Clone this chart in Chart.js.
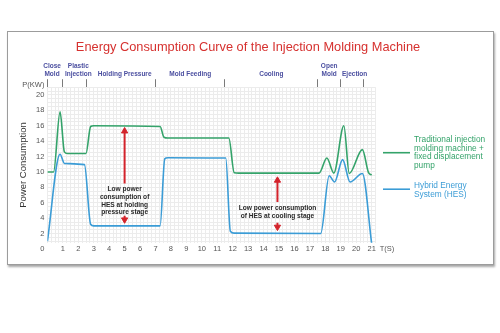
<!DOCTYPE html>
<html>
<head>
<meta charset="utf-8">
<script src="https://cdn.jsdelivr.net/npm/chart.js"></script>
<style>
  html, body { margin: 0; padding: 0; background: #fff; }
  #frame { position: absolute; left: 7px; top: 31px; width: 485px; height: 232px;
           border: 1px solid #9c9c9c; box-shadow: 1px 2px 2px rgba(0,0,0,0.35); background: #fff; }
  #wrap { position: absolute; left: 0; top: 0; width: 500px; height: 333px; }
</style>
</head>
<body>
<div id="frame"></div>
<div id="wrap"><canvas id="chart"></canvas></div>
<script>
  // curve values (time in s, power in kW)
  const greenT = [0, 0.4, 0.82, 1.1, 1.3, 2.5, 2.8, 3.0, 7.3, 7.55, 7.8, 11.75, 12.1, 12.4, 17.6, 18.1, 18.55, 19.2, 19.55, 20.4, 20.8, 21];
  const greenP = [10, 10, 17.8, 12.6, 12.4, 12.4, 15.9, 16.0, 15.9, 14.5, 14.4, 14.4, 9.9, 9.85, 9.85, 11.8, 9.85, 16.0, 9.8, 12.9, 9.9, 9.6];
  const blueT = [0, 0.82, 1.1, 2.4, 2.8, 3.0, 7.3, 7.6, 7.8, 11.55, 11.85, 12.1, 17.7, 18.25, 18.6, 19.12, 19.6, 20.4, 21];
  const blueP = [1.0, 12.3, 11.1, 10.95, 3.2, 3.0, 3.0, 11.7, 11.85, 11.8, 2.3, 2.05, 2.0, 9.5, 8.7, 11.6, 8.7, 9.8, 0.7];

  const seriesNames = [['Traditional injection', 'molding machine +', 'fixed displacement', 'pump'], ['Hybrid Energy', 'System (HES)']];
  const seriesColors = ['#34a36a', '#3b9cd6'];

  const xLabels = [1,2,3,4,5,6,7,8,9,10,11,12,13,14,15,16,17,18,19,20,21];
  const yLabels = [0,2,4,6,8,10,12,14,16,18,20];
  const xUnit = 'T(S)', yUnit = 'P(KW)';

  const phaseNames = [['Close','Mold'], ['Plastic','Injection'], 'Holding Pressure', 'Mold Feeding', 'Cooling', ['Open','Mold'], 'Ejection'];
  const phaseCenters = [0.3, 2.0, 5.0, 9.25, 14.5, 18.25, 19.9];
  const phaseBounds = [0, 1, 2.5, 7, 11.5, 17.5, 19, 20.5];

  const noteHold = ['Low power', 'consumption of', 'HES at holding', 'pressure stage'];
  const noteCool = ['Low power consumption', 'of HES at cooling stage'];
  const arrowHoldUp = [[5, 8.5], [5, 15.3]];
  const arrowHoldDown = [[5, 4.3], [5, 3.8]];
  const arrowCoolUp = [[14.9, 6.1], [14.9, 8.9]];
  const arrowCoolDown = [[14.9, 3.4], [14.9, 2.85]];

  const FONT = '"Liberation Sans", Arial, sans-serif';
  const RED = '#d3232b';
  const GRID = '#ececec';
  const X_MIN = 0, X_MAX = 21.25, Y_MIN = 0.8, Y_MAX = 21;

  const xGrid = [];
  for (let v = 0; v <= X_MAX; v += 0.25) xGrid.push(v);
  xGrid.push(22);
  const yGrid = [0];
  for (let v = 1; v <= Y_MAX; v += 0.5) yGrid.push(v);
  yGrid.push(21.25);
  const topTicks = phaseBounds.concat(phaseCenters).sort((a, b) => a - b);

  const pts = (t, p) => t.map((v, i) => ({x: v, y: p[i]}));
  const arrow = (a, rot) => ({
    data: a.map(q => ({x: q[0], y: q[1]})),
    borderColor: RED, backgroundColor: RED, borderWidth: 2,
    pointRadius: [0, 3.6], pointStyle: 'triangle', pointRotation: rot, pointBorderWidth: 1
  });
  // unit labels sit outside the plot, so their grid lines are hidden
  const gridIn = (lo, hi) => c => (c.tick && (c.tick.value < lo || c.tick.value > hi)) ? 'rgba(0,0,0,0)' : GRID;

  const notes = {
    id: 'notes',
    afterDatasetsDraw(chart) {
      const {ctx, scales: {x, y}} = chart;
      ctx.save();
      ctx.fillStyle = '#2a2a2a';
      ctx.font = 'bold 6.6px ' + FONT;
      ctx.textAlign = 'center';
      ctx.textBaseline = 'middle';
      noteHold.forEach((s, i) => ctx.fillText(s, x.getPixelForValue(5), y.getPixelForValue(7.7) + i * 7.6));
      noteCool.forEach((s, i) => ctx.fillText(s, x.getPixelForValue(14.9), y.getPixelForValue(5.25) + i * 7.7));
      ctx.restore();
    }
  };

  const sideLegend = {
    id: 'sideLegend',
    afterDraw(chart) {
      const {ctx, chartArea: a} = chart;
      const rows = [[65.5, 53], [102, 98.8]];
      ctx.save();
      ctx.font = '8.3px ' + FONT;
      ctx.textBaseline = 'middle';
      ctx.textAlign = 'left';
      seriesNames.forEach((lines, k) => {
        ctx.strokeStyle = seriesColors[k];
        ctx.fillStyle = seriesColors[k];
        ctx.lineWidth = 1.6;
        ctx.beginPath();
        ctx.moveTo(a.right + 7.5, a.top + rows[k][0]);
        ctx.lineTo(a.right + 34.5, a.top + rows[k][0]);
        ctx.stroke();
        lines.forEach((s, i) => ctx.fillText(s, a.right + 38.5, a.top + rows[k][1] + i * 8.5));
      });
      ctx.restore();
    }
  };

  new Chart(document.getElementById('chart'), {
    type: 'line',
    data: {
      datasets: [
        { data: pts(greenT, greenP), borderColor: seriesColors[0], borderWidth: 1.6, pointRadius: 0, cubicInterpolationMode: 'monotone' },
        { data: pts(blueT, blueP), borderColor: seriesColors[1], borderWidth: 1.6, pointRadius: 0, cubicInterpolationMode: 'monotone' },
        arrow(arrowHoldUp, 0), arrow(arrowHoldDown, 180), arrow(arrowCoolUp, 0), arrow(arrowCoolDown, 180)
      ]
    },
    options: {
      responsive: true,
      maintainAspectRatio: false,
      animation: false,
      events: [],
      layout: { padding: { left: 0, right: 4, top: 40, bottom: 70.2 } },
      plugins: {
        legend: { display: false },
        tooltip: { enabled: false },
        title: {
          display: true,
          text: 'Energy Consumption Curve of the Injection Molding Machine',
          color: '#d6312f',
          font: { size: 12.8, family: FONT, weight: 'normal' },
          padding: 0
        }
      },
      scales: {
        x: {
          type: 'linear', min: X_MIN, max: X_MAX, bounds: 'data',
          afterBuildTicks: s => { s.ticks = xGrid.map(v => ({value: v})); },
          ticks: {
            autoSkip: false, maxRotation: 0, minRotation: 0, padding: 2, color: '#555',
            font: { size: 7.5, family: FONT },
            callback: v => v === 22 ? xUnit : (xLabels.includes(v) ? String(v) : '')
          },
          grid: { color: gridIn(X_MIN, X_MAX), drawTicks: false },
          border: { display: false },
          afterFit: s => { s.height = 20; }
        },
        x2: {
          type: 'linear', position: 'top', min: X_MIN, max: X_MAX, bounds: 'data',
          afterBuildTicks: s => { s.ticks = topTicks.map(v => ({value: v})); },
          ticks: {
            autoSkip: false, maxRotation: 0, minRotation: 0, padding: 1.6, color: '#4b4fa0',
            font: { size: 6.5, family: FONT, weight: 'bold' },
            callback: v => { const i = phaseCenters.indexOf(v); return i >= 0 ? phaseNames[i] : ''; }
          },
          grid: {
            drawOnChartArea: false, drawTicks: true, tickLength: 8,
            color: c => (c.tick && phaseBounds.includes(c.tick.value)) ? '#7a7a7a' : 'rgba(0,0,0,0)'
          },
          border: { display: false },
          afterFit: s => { s.height = 31.85; }
        },
        y: {
          type: 'linear', min: Y_MIN, max: Y_MAX, bounds: 'data',
          afterBuildTicks: s => { s.ticks = yGrid.map(v => ({value: v})); },
          ticks: {
            autoSkip: false, padding: 3, color: '#555',
            font: { size: 7.5, family: FONT },
            callback: v => v === 21.25 ? yUnit : (yLabels.includes(v) ? String(v) : '')
          },
          grid: { color: gridIn(Y_MIN, Y_MAX), drawTicks: false },
          border: { display: false },
          title: {
            display: true, text: 'Power Consumption', color: '#333',
            font: { size: 9.5, family: FONT }, padding: { top: 17.3, bottom: 0 }
          },
          afterFit: s => { s.width = 47.4; }
        },
        yR: {
          position: 'right', display: true,
          ticks: { display: false }, grid: { display: false }, border: { display: false },
          afterFit: s => { s.width = 120.5; }
        }
      }
    },
    plugins: [notes, sideLegend]
  });
</script>
</body>
</html>
